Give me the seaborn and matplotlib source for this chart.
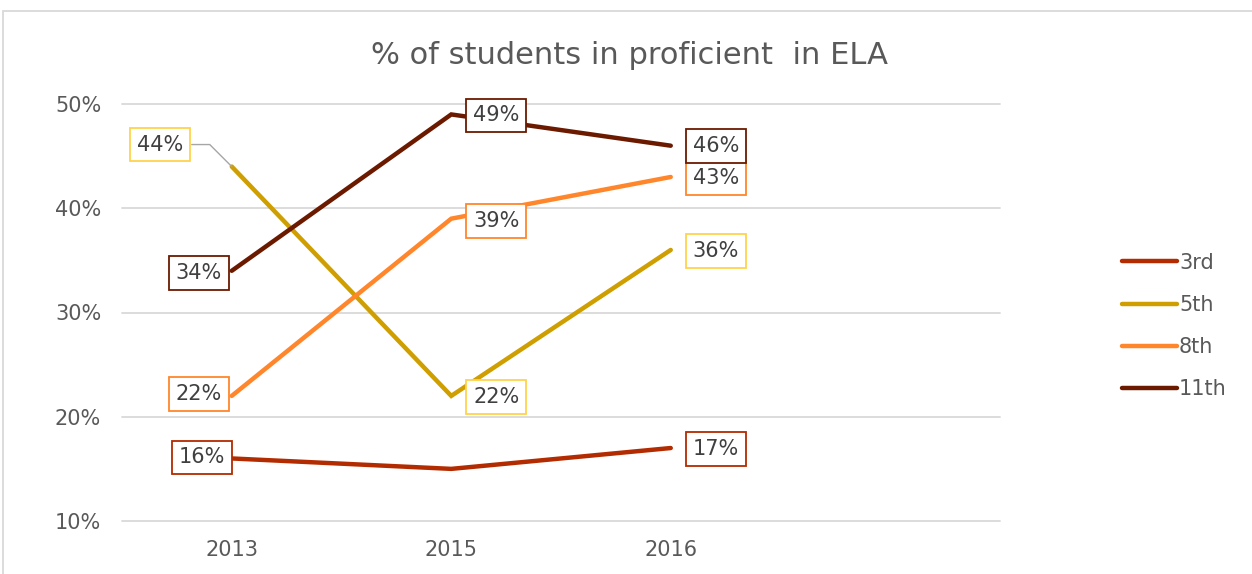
import pandas as pd
import seaborn as sns
import matplotlib.pyplot as plt
from matplotlib.patches import Rectangle

# ------------------------------
# DATA
# ------------------------------

years = ["2013", "2015", "2016"]
grades = ["3rd", "5th", "8th", "11th"]
pct_3rd = [16, 15, 17]
pct_5th = [44, 22, 36]
pct_8th = [22, 39, 43]
pct_11th = [34, 49, 46]
y_ticks = [10, 20, 30, 40, 50]

# which points carry a data label (3rd grade 2015 has none)
show_label = {
    "3rd": [True, False, True],
    "5th": [True, True, True],
    "8th": [True, True, True],
    "11th": [True, True, True],
}

line_colors = {"3rd": "#B32B00", "5th": "#CF9E00", "8th": "#FF862B", "11th": "#6B1A00"}
box_colors = {"3rd": "#B32B00", "5th": "#FFD24D", "8th": "#FF862B", "11th": "#6B1A00"}

# label offsets in pixels
offsets = {
    "3rd": [(-30, 1), None, (45, -1)],
    "5th": [(-72, 22), (45, -1), (45, -1)],
    "8th": [(-33, 2), (45, -2), (45, -1)],
    "11th": [(-33, -2), (45, -1), (45, 0)],
}

rows = []
for g, vals in zip(grades, [pct_3rd, pct_5th, pct_8th, pct_11th]):
    for i, v in enumerate(vals):
        rows.append({"pos": i, "year": years[i], "grade": g, "pct": v})
df = pd.DataFrame(rows)

# ------------------------------
# PLOT
# ------------------------------

sns.set_style("white")
plt.rcParams["font.family"] = ["DejaVu Sans"]

fig = plt.figure(figsize=(12.52, 5.74), dpi=100)
ax = fig.add_axes([122 / 1252, 53 / 574, 878 / 1252, 417 / 574])

sns.lineplot(data=df, x="pos", y="pct", hue="grade", hue_order=grades,
             palette=line_colors, linewidth=3.2, ax=ax,
             solid_capstyle="round", solid_joinstyle="miter")

ax.set_xlim(-0.5, 3.5)
ax.set_ylim(10, 50)
ax.set_yticks(y_ticks)
ax.set_yticklabels([f"{t}%" for t in y_ticks])
ax.set_xticks(range(len(years)))
ax.set_xticklabels(years)
ax.tick_params(axis="both", length=0, labelsize=15, colors="#595959")
ax.tick_params(axis="x", pad=14)
ax.tick_params(axis="y", pad=15)
ax.grid(axis="y", color="#D9D9D9", linewidth=1.3)
for gl in ax.get_ygridlines():
    gl.set_clip_on(False)
ax.set_axisbelow(True)
ax.set_xlabel("")
ax.set_ylabel("")
sns.despine(ax=ax, left=True, bottom=True)

# data labels
for g, vals in zip(grades, [pct_3rd, pct_5th, pct_8th, pct_11th]):
    for i, v in enumerate(vals):
        if not show_label[g][i]:
            continue
        dx, dy = offsets[g][i]
        ax.annotate(f"{v}%", xy=(i, v), xytext=(dx, dy), textcoords="offset pixels",
                    ha="center", va="center", fontsize=15, color="#404040",
                    bbox=dict(boxstyle="square,pad=0.33", fc="white",
                              ec=box_colors[g], lw=1.3),
                    zorder=5)

# leader line for 5th grade 2013 label
ax.annotate("", xy=(0, pct_5th[0]), xytext=(-40, 22), textcoords="offset pixels",
            arrowprops=dict(arrowstyle="-", color="#A6A6A6", lw=1,
                            shrinkA=0, shrinkB=0,
                            connectionstyle="angle,angleA=0,angleB=135,rad=0"),
            zorder=4)

fig.text(0.503, 0.904, "% of students in proficient  in ELA", ha="center",
         va="center", fontsize=22, color="#595959")

leg = ax.legend(loc="center left", bbox_to_anchor=(1103 / 1252, 248 / 574),
                bbox_transform=fig.transFigure, frameon=False, fontsize=15,
                handlelength=2.65, handletextpad=0.1, labelspacing=1.07,
                labelcolor="#595959")
for line in leg.get_lines():
    line.set_linewidth(3.2)

fig.patches.append(Rectangle((3 / 1252, -0.1), 1.2, (574 - 11) / 574 + 0.1,
                             transform=fig.transFigure, fill=False,
                             ec="#D9D9D9", lw=1.3))

plt.savefig("out.png", dpi=100)
